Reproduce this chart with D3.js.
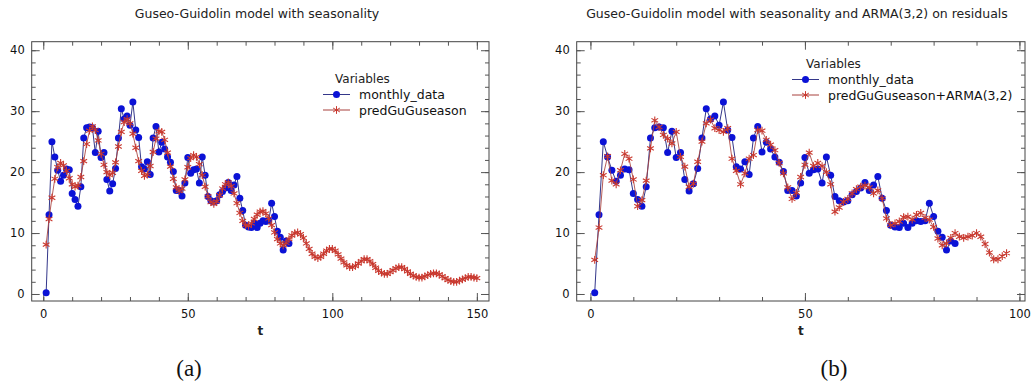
<!DOCTYPE html>
<html>
<head>
<meta charset="utf-8">
<script src="https://cdn.jsdelivr.net/npm/d3@7"></script>
<style>
  body { margin: 0; background: #fff; }
  text { font-family: "DejaVu Sans", sans-serif; }
</style>
</head>
<body>
<div id="graph"></div>
<script>
const width = 1031,
  height = 387;

// observed monthly data, t = 1..85
const monthlyData = [0.2, 13.0, 25.0, 22.5, 20.3, 18.5, 19.5, 20.5, 20.4, 16.5,
  15.5, 14.4, 17.6, 25.6, 27.3, 27.4, 27.3, 23.2, 26.7, 22.4,
  23.2, 18.8, 16.9, 18.1, 20.6, 25.6, 30.4, 28.7, 29.2, 27.7,
  31.5, 26.9, 25.7, 20.9, 20.5, 21.7, 19.6, 25.6, 27.5, 23.3,
  24.9, 23.8, 22.5, 21.6, 20.1, 17.0, 17.0, 16.1, 18.2, 22.4,
  19.8, 20.4, 20.5, 18.2, 22.5, 19.5, 16.0, 15.3, 15.1, 15.3,
  16.3, 16.8, 17.4, 18.3, 17.0, 17.9, 19.3, 15.7, 13.7, 11.3,
  11.0, 10.9, 11.6, 10.9, 11.6, 12.0, 11.9, 12.0, 14.9, 12.7,
  10.3, 9.3, 7.2, 8.7, 8.3];

// GG model with seasonality, t = 1..150
const predGuGuseason = [8.1, 12.3, 15.8, 18.9, 20.8, 21.5, 21.1, 20.2, 19.0, 18.0,
  17.6, 17.8, 19.2, 21.8, 24.6, 26.8, 27.5, 26.9, 25.2, 23.0,
  21.2, 20.0, 19.5, 19.9, 21.6, 24.2, 26.6, 28.2, 28.7, 28.0,
  26.3, 24.0, 21.8, 20.2, 19.4, 19.6, 21.0, 23.3, 25.5, 26.7,
  26.6, 25.3, 23.2, 20.9, 18.9, 17.5, 16.9, 17.3, 18.8, 20.8,
  22.3, 22.8, 22.5, 21.3, 19.5, 17.6, 16.0, 15.1, 14.8, 15.2,
  16.2, 17.3, 18.0, 18.3, 17.7, 16.5, 14.9, 13.3, 12.0, 11.3,
  11.2, 11.6, 12.3, 13.0, 13.5, 13.6, 13.2, 12.4, 11.3, 10.1,
  9.0, 8.3, 8.0, 8.4, 9.0, 9.6, 10.0, 10.1, 9.8, 9.2,
  8.3, 7.4, 6.6, 6.1, 5.9, 6.1, 6.6, 7.1, 7.4, 7.4,
  7.1, 6.5, 5.8, 5.2, 4.7, 4.4, 4.4, 4.6, 5.0, 5.4,
  5.7, 5.7, 5.4, 4.9, 4.3, 3.8, 3.5, 3.3, 3.3, 3.6,
  3.9, 4.2, 4.4, 4.4, 4.1, 3.7, 3.3, 3.0, 2.8, 2.7,
  2.7, 2.9, 3.1, 3.3, 3.4, 3.4, 3.2, 2.9, 2.6, 2.3,
  2.1, 2.0, 2.0, 2.2, 2.4, 2.6, 2.8, 2.8, 2.7, 2.6];

// GG seasonality + ARMA(3,2) on residuals, t = 1..97
const predArma = [5.6, 10.9, 19.5, 22.6, 18.6, 18.0, 20.3, 23.0, 22.2, 18.8,
  14.4, 15.4, 18.6, 23.9, 28.5, 27.4, 26.1, 25.5, 24.7, 26.6,
  22.5, 20.9, 17.6, 18.1, 21.7, 25.0, 28.0, 28.6, 27.2, 26.9,
  26.6, 27.2, 22.2, 20.2, 18.0, 19.8, 22.2, 22.8, 26.9, 26.8,
  25.3, 24.5, 23.6, 21.5, 19.8, 17.5, 15.6, 16.6, 19.2, 21.2,
  23.2, 21.0, 21.5, 21.0, 20.0, 18.0, 13.5, 14.2, 15.1, 15.6,
  16.5, 17.2, 17.6, 17.8, 17.5, 16.5, 17.0, 15.7, 12.4, 11.3,
  11.6, 11.9, 12.6, 12.7, 12.2, 13.0, 13.3, 12.5, 12.2, 11.0,
  9.1, 8.0, 8.3, 9.2, 10.0, 9.4, 9.2, 9.4, 9.6, 10.0,
  9.4, 8.2, 6.8, 5.7, 5.7, 6.2, 6.7];

const yTicks = [0, 10, 20, 30, 40];
const xTicksA = [0, 50, 100, 150];
const xTicksB = [0, 50, 100];

const series = v => v.map((d, i) => ({ t: i + 1, v: d }));

const panels = [
  { title: "Guseo-Guidolin model with seasonality", left: 31.7, right: 489, xdom: [-4, 154.2],
    xmax: 150, ticks: xTicksA, redName: "predGuGuseason", red: predGuGuseason,
    legX: 323, legTitleX: 335, legY: 83, caption: "(a)", capX: 189, titleX: 257 },
  { title: "Guseo-Guidolin model with seasonality and ARMA(3,2) on residuals", left: 576.7, right: 1025, xdom: [-3.2, 101.3],
    xmax: 100, ticks: xTicksB, redName: "predGuGuseason+ARMA(3,2)", red: predArma,
    legX: 792, legTitleX: 806, legY: 68, caption: "(b)", capX: 834, titleX: 797 }
];

const plotTop = 41.7, plotBottom = 301;
const blueFill = "#0b12d6", blueLine = "#34378a";
const redMark = "#c9392f", redLine = "#a8403c";

const svg = d3.select("#graph").append("svg")
  .attr("width", width)
  .attr("height", height);

const y = d3.scaleLinear().domain([-1.15, 41.4]).range([plotBottom, plotTop]);
const star = d3.symbol(d3.symbolAsterisk, 42);

panels.forEach(p => {
  const x = d3.scaleLinear().domain(p.xdom).range([p.left, p.right]);
  const g = svg.append("g");

  g.append("text")
    .attr("x", p.titleX)
    .attr("y", 18)
    .attr("text-anchor", "middle")
    .attr("font-size", 12.5)
    .attr("fill", "#222")
    .text(p.title);

  // frame
  g.append("rect")
    .attr("x", p.left).attr("y", plotTop)
    .attr("width", p.right - p.left).attr("height", plotBottom - plotTop)
    .attr("fill", "none").attr("stroke", "#444").attr("stroke-width", 1);

  const minorX = d3.range(0, p.xmax + 1, 10);
  const minorY = d3.range(0, 41, 2);

  const axes = [
    [d3.axisBottom(x).tickValues(minorX).tickSize(-4).tickFormat(""), `translate(0,${plotBottom})`],
    [d3.axisBottom(x).tickValues(p.ticks).tickSize(-8).tickPadding(9), `translate(0,${plotBottom})`],
    [d3.axisTop(x).tickValues(minorX).tickSize(-4).tickFormat(""), `translate(0,${plotTop})`],
    [d3.axisTop(x).tickValues(p.ticks).tickSize(-8).tickFormat(""), `translate(0,${plotTop})`],
    [d3.axisLeft(y).tickValues(minorY).tickSize(-4).tickFormat(""), `translate(${p.left},0)`],
    [d3.axisLeft(y).tickValues(yTicks).tickSize(-8).tickPadding(7), `translate(${p.left},0)`],
    [d3.axisRight(y).tickValues(minorY).tickSize(-4).tickFormat(""), `translate(${p.right},0)`],
    [d3.axisRight(y).tickValues(yTicks).tickSize(-8).tickFormat(""), `translate(${p.right},0)`]
  ];
  axes.forEach(([ax, tr]) => {
    const a = g.append("g").attr("transform", tr).call(ax);
    a.select(".domain").remove();
    a.selectAll("line").attr("stroke", "#555");
    a.selectAll("text").attr("font-size", 11.5).attr("fill", "#111")
      .attr("font-family", "DejaVu Sans, sans-serif");
  });

  g.append("text")
    .attr("x", (p.left + p.right) / 2)
    .attr("y", 335)
    .attr("text-anchor", "middle")
    .attr("font-size", 12)
    .attr("font-weight", "bold")
    .attr("fill", "#222")
    .text("t");

  const line = d3.line().x(d => x(d.t)).y(d => y(d.v));

  const blue = series(monthlyData);
  const red = series(p.red);

  g.append("path").datum(blue)
    .attr("d", line).attr("fill", "none")
    .attr("stroke", blueLine).attr("stroke-width", 1);
  g.append("g").selectAll("circle").data(blue).join("circle")
    .attr("cx", d => x(d.t)).attr("cy", d => y(d.v))
    .attr("r", 3.5).attr("fill", blueFill);

  g.append("path").datum(red)
    .attr("d", line).attr("fill", "none")
    .attr("stroke", redLine).attr("stroke-width", 1).attr("stroke-opacity", 0.85);
  g.append("g").selectAll("path").data(red).join("path")
    .attr("transform", d => `translate(${x(d.t)},${y(d.v)})`)
    .attr("d", star).attr("fill", "none")
    .attr("stroke", redMark).attr("stroke-width", 1.1);

  // legend
  const lg = g.append("g");
  lg.append("text").attr("x", p.legTitleX).attr("y", p.legY)
    .attr("font-size", 12).attr("fill", "#222").text("Variables");
  const items = [
    { name: "monthly_data", kind: "blue" },
    { name: p.redName, kind: "red" }
  ];
  items.forEach((it, i) => {
    const yy = p.legY + 11.5 + i * 15.5;
    lg.append("line").attr("x1", p.legX).attr("x2", p.legX + 27)
      .attr("y1", yy).attr("y2", yy)
      .attr("stroke", it.kind === "blue" ? blueLine : redLine);
    if (it.kind === "blue") {
      lg.append("circle").attr("cx", p.legX + 13.5).attr("cy", yy)
        .attr("r", 3.5).attr("fill", blueFill);
    } else {
      lg.append("path").attr("transform", `translate(${p.legX + 13.5},${yy})`)
        .attr("d", star).attr("fill", "none").attr("stroke", redMark);
    }
    lg.append("text").attr("x", p.legX + 36).attr("y", yy + 4.5)
      .attr("font-size", 12.5).attr("fill", "#111").text(it.name);
  });

  svg.append("text")
    .attr("x", p.capX).attr("y", 376)
    .attr("text-anchor", "middle")
    .style("font-family", "Liberation Serif, serif")
    .attr("font-size", 23)
    .attr("fill", "#111")
    .text(p.caption);
});
</script>
</body>
</html>
